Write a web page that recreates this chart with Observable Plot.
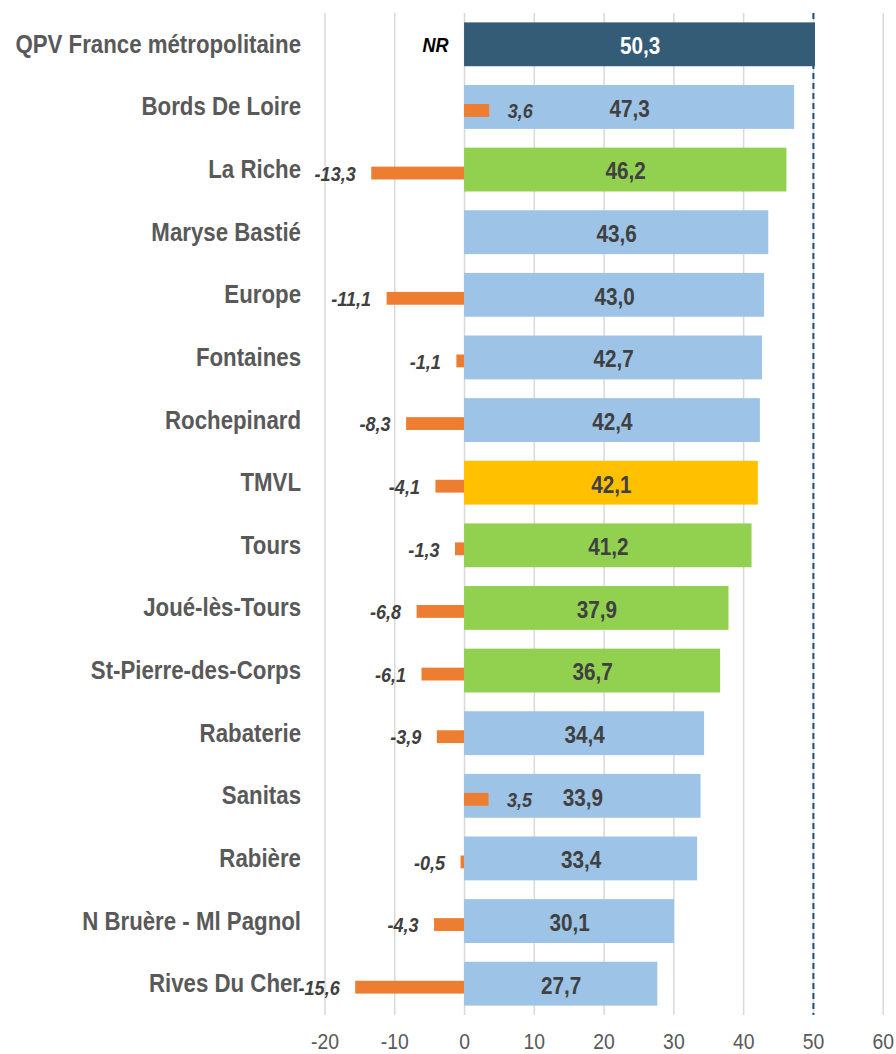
<!DOCTYPE html>
<html>
<head>
<meta charset="utf-8">
<script src="https://cdn.jsdelivr.net/npm/d3@7"></script>
<script src="https://cdn.jsdelivr.net/npm/@observablehq/plot@0.6"></script>
<style>
  html, body { margin: 0; padding: 0; background: #fff; }
  #chart svg { display: block; }
</style>
</head>
<body>
<div id="chart"></div>
<script>
const categories = [
  "QPV France métropolitaine", "Bords De Loire", "La Riche", "Maryse Bastié",
  "Europe", "Fontaines", "Rochepinard", "TMVL", "Tours", "Joué-lès-Tours",
  "St-Pierre-des-Corps", "Rabaterie", "Sanitas", "Rabière",
  "N Bruère - Ml Pagnol", "Rives Du Cher"
];
const values = [50.3, 47.3, 46.2, 43.6, 43.0, 42.7, 42.4, 42.1, 41.2, 37.9, 36.7, 34.4, 33.9, 33.4, 30.1, 27.7];
const evolution = [null, 3.6, -13.3, null, -11.1, -1.1, -8.3, -4.1, -1.3, -6.8, -6.1, -3.9, 3.5, -0.5, -4.3, -15.6];
const evolutionNote = ["NR", null, null, null, null, null, null, null, null, null, null, null, null, null, null, null];
const groups = ["france", "quartier", "commune", "quartier", "quartier", "quartier", "quartier", "metropole",
  "commune", "commune", "commune", "quartier", "quartier", "quartier", "quartier", "quartier"];
const groupNames = ["france", "quartier", "commune", "metropole"];
const groupColors = ["#345C77", "#9DC3E6", "#92D050", "#FFC000"];
const xTicks = [-20, -10, 0, 10, 20, 30, 40, 50, 60];
const referenceValue = 50;

const fmt = v => v.toFixed(1).replace(".", ",");
const rows = categories.map((c, i) => ({
  cat: c, value: values[i], evol: evolution[i], note: evolutionNote[i], group: groups[i]
}));
const FONT = '"Liberation Sans", Arial, sans-serif';

const chart = Plot.plot({
  width: 896,
  height: 1054,
  marginLeft: 324.5,
  marginRight: 13.3,
  marginTop: 13,
  marginBottom: 39,
  style: { fontFamily: FONT, background: "white", overflow: "visible" },
  x: { domain: [-20, 60] },
  y: { type: "band", domain: categories, paddingInner: 0.3, paddingOuter: 0.15, round: false },
  color: { domain: groupNames, range: groupColors },
  marks: [
    Plot.ruleX(xTicks, { stroke: "#d9d9d9", strokeWidth: 1.5 }),
    Plot.ruleX([referenceValue], { stroke: "#1F4E79", strokeWidth: 2, strokeDasharray: "6,4" }),
    Plot.barX(rows, { y: "cat", x: "value", fill: "group" }),
    Plot.barX(rows.filter(d => d.evol != null), { y: "cat", x: "evol", fill: "#ED7D31", insetTop: 19, insetBottom: 12 }),
    Plot.text(rows, {
      y: "cat", x: d => d.value / 2, text: d => fmt(d.value),
      fill: d => d.group === "france" ? "#ffffff" : "#404040",
      fontWeight: "bold", fontSize: 23, dy: 2
    }),
    Plot.text(rows.filter(d => d.evol != null && d.evol < 0), {
      y: "cat", x: "evol", text: d => fmt(d.evol), textAnchor: "end", dx: -16, dy: 4,
      fill: "#404040", fontWeight: "bold", fontStyle: "italic", fontSize: 21
    }),
    Plot.text(rows.filter(d => d.evol != null && d.evol > 0), {
      y: "cat", x: "evol", text: d => fmt(d.evol), textAnchor: "start", dx: 18, dy: 4,
      fill: "#404040", fontWeight: "bold", fontStyle: "italic", fontSize: 21
    }),
    Plot.text(rows.filter(d => d.note != null), {
      y: "cat", x: () => 0, text: "note", textAnchor: "end", dx: -16, dy: 0,
      fill: "#000000", fontWeight: "bold", fontStyle: "italic", fontSize: 21
    }),
    Plot.axisX({ ticks: xTicks, tickSize: 0, tickPadding: 18, fontSize: 22.5, fill: "#595959", tickFormat: d => String(d), label: null }),
    Plot.axisY({ tickSize: 0, tickPadding: 24, fontSize: 25, fontWeight: "bold", fill: "#595959", label: null })
  ]
});
document.getElementById("chart").appendChild(chart);
// Emulate the narrow typeface of the original by condensing texts horizontally.
const condense = { "25": 0.89, "23": 0.9, "21": 0.86, "22.5": 0.86 };
chart.querySelectorAll("text").forEach(el => {
  const holder = el.closest("[font-size]");
  const size = holder ? holder.getAttribute("font-size") : null;
  const f = condense[size] || 0.86;
  const w = el.getComputedTextLength();
  if (w > 0) {
    el.setAttribute("textLength", (w * f).toFixed(2));
    el.setAttribute("lengthAdjust", "spacingAndGlyphs");
  }
});
</script>
</body>
</html>
